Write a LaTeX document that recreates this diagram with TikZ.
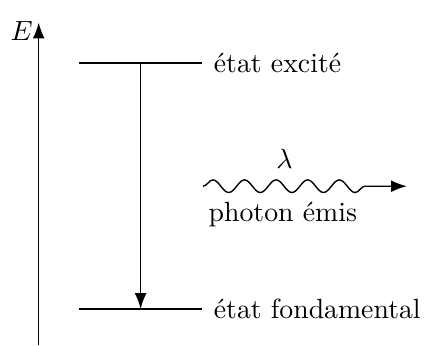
\documentclass[tikz,border=0pt]{standalone}
\usepackage{tikz}
\usetikzlibrary{positioning, arrows.meta, decorations.pathmorphing}

\begin{document}
\begin{tikzpicture}[
        level/.style={line width=0.9pt},
        label/.style={font=\normalsize, inner sep=1pt},
        arrow/.style={-{Latex[length=2mm, width=1.5mm]}, line width=0.5pt},
        wave/.style={decorate, decoration={snake, amplitude=0.8mm, segment length=4mm, post length=5mm}},
    ]
        \useasboundingbox (0,0) rectangle (5.405,4.367);

        % axe de l'energie
        \coordinate (axebas) at (0.49,0);
        \coordinate (axehaut) at (0.49,4.08);
        \draw[arrow] (axebas) -- (axehaut);
        \node[label, left=1pt of axehaut, yshift=-1mm] (energie) {$E$};

        % niveaux
        \coordinate (hautg) at (1.0,3.57);
        \coordinate (hautd) at (2.56,3.57);
        \coordinate (basg) at (1.0,0.456);
        \coordinate (basd) at (2.56,0.456);
        \draw[level] (hautg) -- (hautd);
        \draw[level] (basg) -- (basd);
        \node[label, right=3pt of hautd] (excite) {état excité};
        \node[label, right=3pt of basd] (fond) {état fondamental};

        % transition
        \coordinate (depart) at (1.78,3.57);
        \coordinate (arrivee) at (1.78,0.456);
        \draw[arrow] (depart) -- (arrivee);

        % photon
        \coordinate (ondeg) at (2.57,2.01);
        \coordinate (onded) at (5.15,2.01);
        \draw[arrow, wave] (ondeg) -- (onded);
        \node[label] (lambda) at (3.6,2.36) {$\lambda$};
        \node[label, anchor=west] (photon) at (2.6,1.65) {photon émis};
    \end{tikzpicture}
\end{document}
